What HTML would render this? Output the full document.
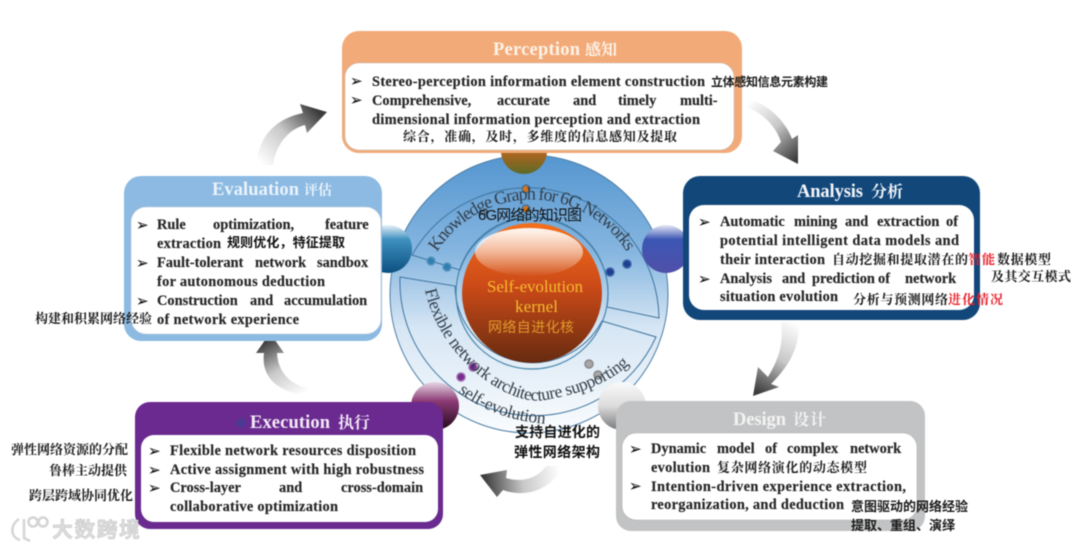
<!DOCTYPE html>
<html><head><meta charset="utf-8"><style>
html,body{margin:0;padding:0;background:#fff;width:1080px;height:549px;overflow:hidden}
svg{display:block;filter:blur(.4px)}
text{font-family:"Liberation Serif","Noto Serif CJK SC",serif;font-weight:700;font-size:14.4px;fill:#262626;letter-spacing:0;stroke:#262626;stroke-width:.15px}
.c{font-family:"Liberation Serif","Noto Serif CJK SC",serif;font-size:13px;fill:#1a1a1a;letter-spacing:0}
.s{font-family:"Liberation Sans","Noto Sans CJK SC",sans-serif;font-size:13px;fill:#111;letter-spacing:0;stroke:none}
.b{font-family:"DejaVu Sans",sans-serif;font-size:15px;fill:#111;letter-spacing:0;font-weight:700}
.t{font-size:18.5px;stroke:none}
.k{font-weight:400;fill:#323e4a;letter-spacing:0;stroke:none}
.w{stroke:none}
</style></head><body>
<svg width="1080" height="549" viewBox="0 0 1080 549" xmlns="http://www.w3.org/2000/svg">
<defs>
<linearGradient id="disc" x1="0" y1="0" x2="0" y2="1"><stop offset="0" stop-color="#5596d0"/><stop offset=".35" stop-color="#86b6e0"/><stop offset=".62" stop-color="#d6e6f4"/><stop offset="1" stop-color="#fafcfe"/></linearGradient>
<linearGradient id="core" x1="0" y1="0" x2="0" y2="1"><stop offset="0" stop-color="#f4701c"/><stop offset=".45" stop-color="#cc4a18"/><stop offset="1" stop-color="#662b10"/></linearGradient>
<linearGradient id="hl" x1="0" y1="0" x2="0" y2="1"><stop offset="0" stop-color="#fff" stop-opacity=".95"/><stop offset=".5" stop-color="#fff" stop-opacity=".55"/><stop offset="1" stop-color="#fff" stop-opacity=".02"/></linearGradient>
<linearGradient id="sBrown" x1="0" y1="0" x2="0" y2="1"><stop offset="0" stop-color="#d87a20"/><stop offset=".6" stop-color="#a4651f"/><stop offset="1" stop-color="#5c6a28"/></linearGradient>
<linearGradient id="sBlue" x1="0" y1="0" x2="0" y2="1"><stop offset="0" stop-color="#e8f2f8"/><stop offset=".3" stop-color="#3f90c0"/><stop offset="1" stop-color="#0b5080"/></linearGradient>
<linearGradient id="sInd" x1="0" y1="0" x2="0" y2="1"><stop offset="0" stop-color="#e6e8f6"/><stop offset=".3" stop-color="#3c56b4"/><stop offset="1" stop-color="#5050a8"/></linearGradient>
<linearGradient id="sPur" x1="0" y1="0" x2="0" y2="1"><stop offset="0" stop-color="#e6d8e4"/><stop offset=".4" stop-color="#8c3a74"/><stop offset="1" stop-color="#200818"/></linearGradient>
<linearGradient id="sGry" x1="0" y1="0" x2="0" y2="1"><stop offset="0" stop-color="#fafafa"/><stop offset=".5" stop-color="#dcdcdc"/><stop offset="1" stop-color="#7a7a7a"/></linearGradient>
<linearGradient id="a1" gradientUnits="userSpaceOnUse" x1="262" y1="165" x2="318" y2="112"><stop offset="0" stop-color="#fff"/><stop offset=".5" stop-color="#c8c8c8"/><stop offset="1" stop-color="#3c3c3c"/></linearGradient>
<linearGradient id="a2" gradientUnits="userSpaceOnUse" x1="745" y1="105" x2="795" y2="160"><stop offset="0" stop-color="#fff"/><stop offset=".5" stop-color="#c8c8c8"/><stop offset="1" stop-color="#3c3c3c"/></linearGradient>
<linearGradient id="a3" gradientUnits="userSpaceOnUse" x1="795" y1="322" x2="757" y2="392"><stop offset="0" stop-color="#fff"/><stop offset=".5" stop-color="#c8c8c8"/><stop offset="1" stop-color="#3c3c3c"/></linearGradient>
<linearGradient id="a4" gradientUnits="userSpaceOnUse" x1="560" y1="470" x2="484" y2="478"><stop offset="0" stop-color="#fff"/><stop offset=".5" stop-color="#c8c8c8"/><stop offset="1" stop-color="#3c3c3c"/></linearGradient>
<linearGradient id="a5" gradientUnits="userSpaceOnUse" x1="304" y1="394" x2="270" y2="336"><stop offset="0" stop-color="#fff"/><stop offset=".5" stop-color="#c8c8c8"/><stop offset="1" stop-color="#333"/></linearGradient>
<path id="arcTop" d="M437 252 A112 112 0 0 1 628 254"/>
<path id="arcBot" d="M425 290 C440 360 510 407 545 400 C580 394 615 382 636 357"/>
<path id="arcSelf" d="M458 392 Q495 420 547 424"/>
</defs>

<!-- central disc -->
<circle cx="529" cy="294" r="139" fill="url(#disc)" stroke="#4d7ea6" stroke-width="1"/>
<path d="M412 255 L460 270 A76 76 0 0 1 607 307 L659 318 A132 132 0 0 0 412 255Z" fill="none" stroke="#3f759f" stroke-width="1"/>
<path d="M400 277 L455 286 A78 78 0 0 0 602 321 L656 337 A134 134 0 0 1 400 277Z" fill="none" stroke="#3f759f" stroke-width="1"/>
<circle cx="532" cy="293" r="76" fill="none" stroke="#4a86ae" stroke-width="1.2"/>
<circle cx="532" cy="293" r="70" fill="url(#core)"/>
<ellipse cx="529" cy="252" rx="54" ry="24" fill="url(#hl)"/>

<!-- dots -->
<g stroke-width="1.5">
<circle cx="526" cy="189" r="4" fill="#d4721e" stroke="#3f759f"/><circle cx="526" cy="209" r="4" fill="#d4721e" stroke="#3f759f"/>
<circle cx="431" cy="261" r="4" fill="#2f7fb0" stroke="#5a96bf"/><circle cx="447" cy="267" r="4" fill="#2f7fb0" stroke="#5a96bf"/>
<circle cx="610" cy="272" r="4" fill="#1e3f90" stroke="#3f68a8"/><circle cx="627" cy="264" r="4" fill="#1e3f90" stroke="#3f68a8"/>
<circle cx="473" cy="367" r="4" fill="#7a2a90" stroke="#a070b0"/><circle cx="461" cy="377" r="4" fill="#7a2a90" stroke="#a070b0"/>
<circle cx="589" cy="364" r="4" fill="#a8a8a8" stroke="#888"/><circle cx="598" cy="375" r="4" fill="#a8a8a8" stroke="#888"/>
</g>

<!-- curved labels -->
<text class="k" style="font-size:18px"><textPath href="#arcTop" textLength="226" lengthAdjust="spacing">Knowledge Graph for 6G Networks</textPath></text>
<text class="k" style="font-size:17.5px"><textPath href="#arcBot" textLength="268" lengthAdjust="spacing">Flexible network architecture supporting</textPath></text>
<text class="k" style="font-size:17.5px"><textPath href="#arcSelf" textLength="94" lengthAdjust="spacing">self-evolution</textPath></text>

<!-- spheres -->
<circle cx="524" cy="151" r="23" fill="url(#sBrown)"/>
<circle cx="388" cy="249" r="24" fill="url(#sBlue)"/>
<circle cx="666" cy="249" r="24" fill="url(#sInd)"/>
<circle cx="435" cy="406" r="24" fill="url(#sPur)"/>
<circle cx="622" cy="406" r="24" fill="url(#sGry)"/>

<!-- core text -->
<text class="w" x="487" y="292" textLength="96" style="font-size:17px;font-weight:400;fill:#f5bb2e">Self-evolution</text>
<text class="w" x="515" y="312" textLength="43" style="font-size:17px;font-weight:400;fill:#f5bb2e">kernel</text>
<text class="s" x="488" y="332" textLength="86" style="font-size:14px;font-weight:400;fill:#e09a2c">网络自进化核</text>
<text class="s" x="478" y="220" textLength="104" style="font-size:15px;font-weight:400">6G网络的知识图</text>

<!-- arrows -->
<path d="M256 165 C259 136 275 119 303 113 L300 104 L327 112 L307 133 L305 125 C289 129 276 144 273 165Z" fill="url(#a1)"/>
<path d="M743 106 C760 111 775 124 781 142 L773 151 L798 164 L798 135 L792 139 C785 120 765 101 745 99Z" fill="url(#a2)"/>
<path d="M781 322 C784 345 778 360 768 377 L758 367 L753 396 L779 387 L771 384 C790 365 801 345 798 322Z" fill="url(#a3)"/>
<path d="M564 466 C552 488 528 499 503 490 L497 497 L480 475 L507 470 L506 478 C522 483 538 478 546 466Z" fill="url(#a4)"/>
<path d="M304 395 C275 391 261 375 264 353 L256 353 L270 333 L284 353 L277 353 C278 372 290 384 307 388Z" fill="url(#a5)"/>

<!-- Perception -->
<rect x="342" y="31" width="400" height="122" rx="17" fill="#f2aa78"/>
<rect x="345" y="63" width="389" height="87" rx="14" fill="#fff" stroke="#c8c0b8" stroke-width=".6"/>
<text class="t" x="493" y="55" style="fill:#fdf3e8" textLength="87">Perception</text>
<text class="c w" x="585" y="55" textLength="32" style="fill:#fdf3e8;font-size:16px;font-weight:700">感知</text>
<text class="b" x="350" y="86">➢</text><text class="b" x="350" y="105">➢</text>
<text x="372" y="86" textLength="333">Stereo-perception information element construction</text>
<text class="c w" x="711" y="86" textLength="117" style="font-family:'Liberation Sans','Noto Sans CJK SC',sans-serif;font-size:12px;font-weight:700">立体感知信息元素构建</text>
<text y="105"><tspan x="372">Comprehensive,</tspan><tspan x="497">accurate</tspan><tspan x="573">and</tspan><tspan x="618">timely</tspan><tspan x="680">multi-</tspan></text>
<text x="372" y="124" textLength="328">dimensional information perception and extraction</text>
<text class="c w" x="403" y="141" textLength="274" style="font-weight:700">综合，准确，及时，多维度的信息感知及提取</text>

<!-- Analysis -->
<rect x="683" y="176" width="297" height="144" rx="17" fill="#12477a"/>
<rect x="689" y="205" width="285" height="105" rx="15" fill="#fff"/>
<text class="t" x="797" y="197" style="fill:#f2f6fa" textLength="66">Analysis</text>
<text class="c w" x="871" y="197" textLength="32" style="fill:#f2f6fa;font-size:16px;font-weight:700">分析</text>
<text class="b" x="698" y="227">➢</text><text class="b" x="698" y="284">➢</text>
<text y="226"><tspan x="720">Automatic</tspan><tspan x="794">mining</tspan><tspan x="845">and</tspan><tspan x="877">extraction</tspan><tspan x="946">of</tspan></text>
<text x="720" y="245" textLength="239">potential intelligent data models and</text>
<text x="720" y="264" textLength="105">their interaction</text>
<text class="c w" x="832" y="264" textLength="136" style="font-weight:700">自动挖掘和提取潜在的</text>
<text class="c w" x="968" y="264" textLength="27" style="font-weight:700;fill:#e8202a">智能</text>
<text class="c w" x="997" y="264" textLength="54" style="font-weight:700">数据模型</text>
<text y="283"><tspan x="720">Analysis</tspan><tspan x="782">and</tspan><tspan x="812">prediction</tspan><tspan x="878">of</tspan><tspan x="905">network</tspan></text>
<text class="c w" x="991" y="281" textLength="80" style="font-weight:700">及其交互模式</text>
<text x="720" y="301" textLength="118">situation evolution</text>
<text class="c w" x="853" y="304" textLength="95" style="font-weight:700">分析与预测网络</text>
<text class="c w" x="948" y="304" textLength="55" style="font-weight:700;fill:#e8202a">进化情况</text>

<!-- Evaluation -->
<rect x="124" y="176" width="258" height="165" rx="17" fill="#8cbae2"/>
<rect x="131" y="207" width="250" height="127" rx="15" fill="#fff" stroke="#c0ccd6" stroke-width=".6"/>
<text class="t" x="212" y="195" style="fill:#eaf3fb" textLength="87">Evaluation</text>
<text class="c w" x="304" y="195" textLength="28" style="fill:#eaf3fb;font-size:14px;font-weight:700">评估</text>
<text class="b" x="136" y="230">➢</text><text class="b" x="136" y="268">➢</text><text class="b" x="136" y="306">➢</text>
<text y="229"><tspan x="157">Rule</tspan><tspan x="213">optimization,</tspan><tspan x="325">feature</tspan></text>
<text x="157" y="248" textLength="64">extraction</text>
<text class="s" x="227" y="247" textLength="118" style="font-size:13px">规则优化，特征提取</text>
<text y="267"><tspan x="157">Fault-tolerant</tspan><tspan x="255">network</tspan><tspan x="317">sandbox</tspan></text>
<text x="157" y="286" textLength="168">for autonomous deduction</text>
<text y="305"><tspan x="157">Construction</tspan><tspan x="250">and</tspan><tspan x="284">accumulation</tspan></text>
<text x="157" y="324" textLength="142">of network experience</text>
<text class="c w" x="35" y="323" textLength="117" style="font-weight:700">构建和积累网络经验</text>

<!-- Execution -->
<rect x="135" y="402" width="308" height="127" rx="15" fill="#6a2a90"/>
<rect x="141" y="435" width="297" height="87" rx="13" fill="#fff"/>
<path d="M241 417 L247 423 L241 429 L235 423Z" fill="#4b3a94"/>
<text class="t" x="250" y="428" style="fill:#f3eaf7" textLength="80">Execution</text>
<text class="c w" x="338" y="428" textLength="32" style="fill:#f3eaf7;font-size:16px;font-weight:700">执行</text>
<text class="b" x="148" y="456">➢</text><text class="b" x="148" y="475">➢</text><text class="b" x="148" y="493">➢</text>
<text x="170" y="455" textLength="246">Flexible network resources disposition</text>
<text x="170" y="474" textLength="254">Active assignment with high robustness</text>
<text y="492"><tspan x="170">Cross-layer</tspan><tspan x="279">and</tspan><tspan x="341">cross-domain</tspan></text>
<text x="170" y="511" textLength="168">collaborative optimization</text>
<text class="c w" x="11" y="454" textLength="117" style="font-weight:700">弹性网络资源的分配</text>
<text class="c w" x="49" y="475" textLength="78" style="font-weight:700">鲁棒主动提供</text>
<text class="c w" x="29" y="500" textLength="104" style="font-weight:700">跨层跨域协同优化</text>

<!-- Design -->
<rect x="616" y="401" width="309" height="130" rx="15" fill="#c2c3c4"/>
<rect x="622" y="433" width="295" height="87" rx="14" fill="#fff" stroke="#b0b0b0" stroke-width=".6"/>
<text class="t" x="733" y="425" style="fill:#f3f3f3" textLength="53">Design</text>
<text class="c w" x="793" y="425" textLength="33" style="fill:#f3f3f3;font-size:16px;font-weight:700">设计</text>
<text class="b" x="629" y="454">➢</text><text class="b" x="629" y="491">➢</text>
<text y="453"><tspan x="651">Dynamic</tspan><tspan x="717">model</tspan><tspan x="765">of</tspan><tspan x="787">complex</tspan><tspan x="850">network</tspan></text>
<text x="651" y="472" textLength="59">evolution</text>
<text class="c w" x="717" y="472" textLength="150" style="font-weight:700">复杂网络演化的动态模型</text>
<text x="651" y="491" textLength="255">Intention-driven experience extraction,</text>
<text x="651" y="509" textLength="193">reorganization, and deduction</text>
<text class="c w" x="851" y="511" textLength="117" style="font-family:'Liberation Sans','Noto Sans CJK SC',sans-serif;font-weight:700">意图驱动的网络经验</text>
<text class="c w" x="851" y="530" textLength="104" style="font-family:'Liberation Sans','Noto Sans CJK SC',sans-serif;font-weight:700">提取、重组、演绎</text>

<!-- bottom centre label -->
<text class="s" x="515" y="437" textLength="85" style="font-size:14px;font-weight:700">支持自进化的</text>
<text class="s" x="514" y="457" textLength="86" style="font-size:14px;font-weight:700">弹性网络架构</text>

<!-- watermark -->
<g fill="none" stroke="#d4d4d4" stroke-width="2.5">
<path d="M19 519 C10 525 10 537 20 540"/><path d="M24 519 L24 538 L30 541"/>
<circle cx="33" cy="522" r="4.5"/><circle cx="43" cy="522" r="4.5"/>
</g>
<text class="s" x="52" y="537" textLength="88" style="font-size:21px;fill:#dcdcdc;stroke:#bdbdbd;stroke-width:.4">大数跨境</text>
</svg>
</body></html>
